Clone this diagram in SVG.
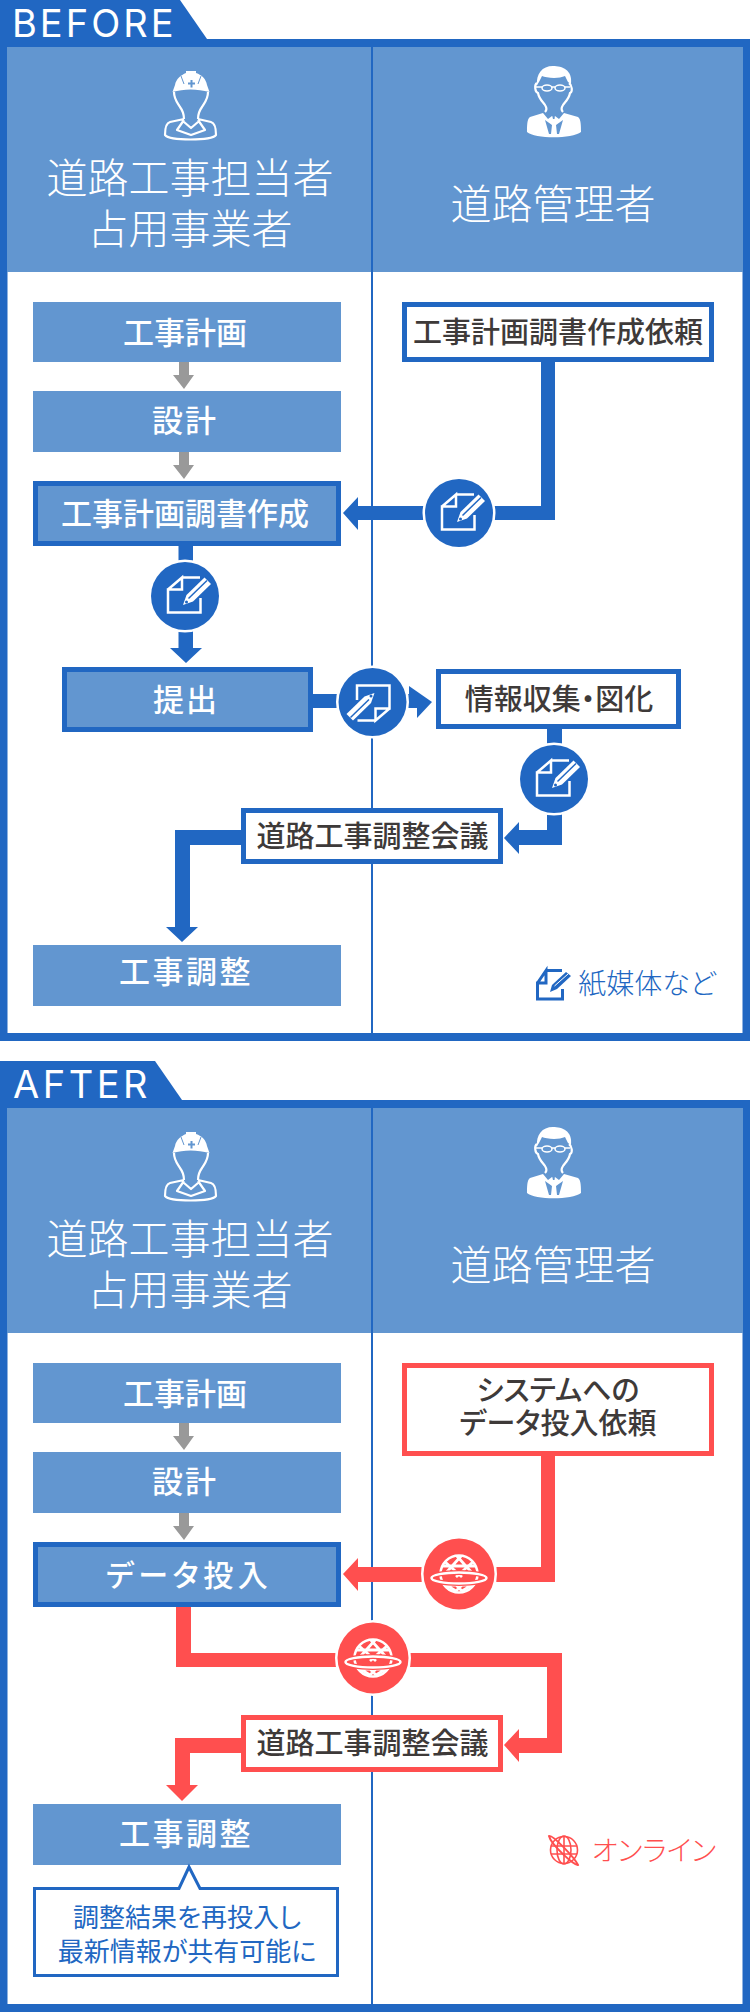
<svg xmlns="http://www.w3.org/2000/svg" width="750" height="2012" viewBox="0 0 750 2012">
<style>
text{font-family:"Noto Sans CJK JP","Noto Sans",sans-serif;text-anchor:middle;font-feature-settings:"palt"}
.hd{font-size:41px;font-weight:300;fill:#fff;font-feature-settings:normal}
.tab{font-family:Inter,"Noto Sans",sans-serif;font-size:38px;font-weight:400;fill:#fff;text-anchor:start}
.w{font-size:31px;font-weight:500;fill:#fff;font-feature-settings:normal}
.wp{font-size:30px;font-weight:500;fill:#fff}
.k{font-size:29px;font-weight:500;fill:#3e3a39}
.note{font-size:26px;font-weight:400;fill:#2167c2}
.leg{font-size:28px;font-weight:300}
.pb{fill:#6296d0}
.pbb{fill:#6296d0;stroke:#2167c2;stroke-width:5}
.wb{fill:#fff;stroke:#2167c2;stroke-width:5}
.wr{fill:#fff;stroke:#ff4f4f;stroke-width:5}
.b{fill:#2167c2}.r{fill:#ff4f4f}.g{fill:#999}
</style>
<defs>
<g id="doc">
<path d="M-3-18.500H15M-17-6.500-3-18.500V-6.500H-17V16.500H15.500V2" fill="none" stroke="#fff" stroke-width="2.500"/>
<path d="M-2 9 1.500-1 19.500-18.500 26-12 8 5.500Z" fill="#fff" stroke="#2167c2" stroke-width="2" paint-order="stroke"/>
<path d="M3.500 2.500 22-15.500" stroke="#2167c2" stroke-width="1.500"/>
<circle cx="1.500" cy="6" r="1.500" fill="#2167c2"/>
</g>
<clipPath id="gc"><circle r="19"/></clipPath>
<g id="globe">
<circle r="18.500" fill="none" stroke="#fff" stroke-width="2.500"/>
<g clip-path="url(#gc)" fill="none" stroke="#fff" stroke-width="2.800">
<path d="M-15-13 3 3M-3-19 14 0M15-13-3 3M3-19-14 0M-19-8H19M-13 11-3 17M13 11 3 17M-3 11 3 17M3 11-3 17M-18 11H18"/>
</g>
<ellipse cy="4" rx="28" ry="5.500" fill="none" stroke="#ff4f4f" stroke-width="5"/>
<ellipse cy="4" rx="27.500" ry="5.500" fill="none" stroke="#fff" stroke-width="2.500"/>
</g>
<g id="worker">
<path d="M175 85C176 79 181 75 186 73V71H196V73C202 75 206 79 207 85L209.500 92C197 88.500 184 88.500 172.500 92Z" fill="#fff"/>
<path d="M181 76 184 84M201 76 198 84" stroke="#6296d0" stroke-width="1"/>
<path d="M188 82.500h2.500v-2.500h2v2.500h2.500v2h-2.500v3h-2v-3h-2.500Z" fill="#6296d0"/>
<path d="M174 92C174 99 177 102 180 107 183 111 184 114 184 119M208 92C208 99 205 102 202 107 199 111 198 114 198 119M184 119 170 122C166 123 165 129 165 135 170 141 211 141 216 135 216 129 215 123 211 122L198 119M184 120 177 130 191 135 205 130 198 120M184 122 191 128 198 122" fill="none" stroke="#fff" stroke-width="2.200" stroke-linejoin="round"/>
</g>
<g id="manager">
<path d="M537 85C536 74 542 66 553 66 562 66 573 70 571 84L568 82 565 76C559 79 546 78 542 76L539 82Z" fill="#fff"/>
<path d="M537 83C534 85 535 92 538 93 539 99 543 102 545 105 547 108 547 110 545 112M569 83C572 85 573 92 570 93 569 99 565 102 563 105 561 108 561 110 563 112" fill="none" stroke="#fff" stroke-width="2.200"/>
<ellipse cx="547" cy="88" rx="5" ry="3" fill="none" stroke="#fff" stroke-width="1.500"/>
<ellipse cx="560" cy="88" rx="5" ry="3" fill="none" stroke="#fff" stroke-width="1.500"/>
<path d="M552 87H555M535 87H542M565 87H570" stroke="#fff" stroke-width="1.500"/>
<path d="M543 113 530 117C527 119 527 126 527 132 535 139 572 139 581 132 581 126 581 119 578 117L564 113 559 119 555 116 552 116 548 119Z" fill="#fff"/>
<path d="M545 120 549 134H551L552 125ZM563 120 559 134H557L556 125Z" fill="#6296d0"/>
<path d="M552 115 555 115 554.500 119 553 119Z" fill="#6296d0"/>
</g>
<g id="legdoc">
<path d="M546 970.500H562M537.500 983 546 970.500V983H537.500V999H562.500V989" fill="none" stroke="#2167c2" stroke-width="3"/>
<path d="M550 992 552 985 566 972 571 976 557 989Z" fill="#2167c2" stroke="#fff" stroke-width="1.500" paint-order="stroke"/>
<path d="M554.500 986 568 974" stroke="#fff" stroke-width="1"/>
</g>
</defs>

<g id="before">
<g id="before-frame">
<rect x="3.500" y="43" width="743" height="994" fill="#fff" stroke="#2167c2" stroke-width="8"/>
<polygon class="b" points="0,0 180,0 207,39 207,47 0,47"/>
<rect class="pb" x="7" y="47" width="736" height="225"/>
<rect class="b" x="371" y="47" width="2" height="987"/>
<text class="tab" x="12" y="37" letter-spacing="3">BEFORE</text>
</g>
<g id="before-connectors">
<path class="g" d="M179 362H189V375H194L184 389 173 375H179Z"/>
<path class="g" d="M179 452H189V465H194L184 479 173 465H179Z"/>
<path class="b" d="M541 362H555V520H358V530L343 513 358 497V506H541Z"/>
<path class="b" d="M178.500 546H193V648H202L186 663 170 648H178.500Z"/>
<path class="b" d="M313 694H409V686L432 702 417 718V708H313Z"/>
<path class="b" d="M547 729H562V845H519V854L504 838 519 822V830H547Z"/>
<path class="b" d="M241 830V845H190V927H198L182 942 166 927H175V830Z"/>
</g>
<g id="b-koji"><rect class="pb" x="33" y="302" width="308" height="60"/><text class="w" x="185" y="344">工事計画</text></g>
<g id="b-sekkei"><rect class="pb" x="33" y="391" width="308" height="61"/><text class="w" x="185" y="432" letter-spacing="2">設計</text></g>
<g id="b-chosho"><rect class="pbb" x="35.500" y="483.500" width="303" height="60"/><text class="w" x="185" y="525">工事計画調書作成</text></g>
<g id="b-teishutsu"><rect class="pbb" x="64.500" y="669.500" width="246" height="60"/><text class="w" x="186" y="711" letter-spacing="2">提出</text></g>
<g id="b-chotei"><rect class="pb" x="33" y="945" width="308" height="61"/><text class="w" x="186" y="983" letter-spacing="2.500">工事調整</text></g>
<g id="b-irai"><rect class="wb" x="404.500" y="304.500" width="307" height="55"/><text class="k" x="558" y="343">工事計画調書作成依頼</text></g>
<g id="b-joho"><rect class="wb" x="438.500" y="671.500" width="240" height="55"/><text class="k" x="559" y="710">情報収集・図化</text></g>
<g id="b-kaigi"><rect class="wb" x="243.500" y="810.500" width="257" height="51"/><text class="k" x="372.500" y="847">道路工事調整会議</text></g>
<g id="b-c1"><circle class="b" cx="459" cy="513" r="34" stroke="#fff" stroke-width="5" paint-order="stroke"/><use href="#doc" x="459" y="513"/></g>
<g id="b-c2"><circle class="b" cx="185" cy="596" r="34" stroke="#fff" stroke-width="5" paint-order="stroke"/><use href="#doc" x="185" y="596"/></g>
<g id="b-c3"><circle class="b" cx="372.500" cy="702" r="34" stroke="#fff" stroke-width="5" paint-order="stroke"/><use href="#doc" transform="translate(372.500 702) rotate(180)"/></g>
<g id="b-c4"><circle class="b" cx="554" cy="779" r="34" stroke="#fff" stroke-width="5" paint-order="stroke"/><use href="#doc" x="554" y="779"/></g>
<g id="b-h1"><use href="#worker"/><text class="hd" x="190" y="193">道路工事担当者</text><text class="hd" x="190" y="244">占用事業者</text></g>
<g id="b-h2"><use href="#manager"/><text class="hd" x="553" y="219">道路管理者</text></g>
<g id="b-legend"><use href="#legdoc"/><text class="leg" x="647" y="994" fill="#2167c2">紙媒体など</text></g>
</g>

<g id="after">
<g id="after-frame">
<rect x="3.500" y="1104" width="743" height="904" fill="#fff" stroke="#2167c2" stroke-width="8"/>
<polygon class="b" points="0,1061 155,1061 182,1100 182,1108 0,1108"/>
<rect class="pb" x="7" y="1108" width="736" height="225"/>
<rect class="b" x="371" y="1108" width="2" height="897"/>
<text class="tab" x="13" y="1098" letter-spacing="3.500">AFTER</text>
</g>
<g id="after-connectors">
<path class="g" d="M179 1423H189V1436H194L184 1450 173 1436H179Z"/>
<path class="g" d="M179 1513H189V1526H194L184 1540 173 1526H179Z"/>
<path class="r" d="M541 1456H555V1582H358V1591L343 1574 358 1558V1567H541Z"/>
<path class="r" d="M176 1607H191V1653H562V1753H519V1762L504 1745 519 1729V1738H547V1667H176Z"/>
<path class="r" d="M241 1738V1753H190V1785H198L182 1801 166 1785H175V1738Z"/>
</g>
<g id="a-koji"><rect class="pb" x="33" y="1363" width="308" height="60"/><text class="w" x="185" y="1405">工事計画</text></g>
<g id="a-sekkei"><rect class="pb" x="33" y="1452" width="308" height="61"/><text class="w" x="185" y="1493" letter-spacing="2">設計</text></g>
<g id="a-data"><rect class="pbb" x="35.500" y="1544.500" width="303" height="60"/><text class="wp" x="189" y="1586" letter-spacing="4.500">データ投入</text></g>
<g id="a-chotei"><rect class="pb" x="33" y="1804" width="308" height="61"/><text class="w" x="186" y="1845" letter-spacing="2.500">工事調整</text></g>
<g id="a-irai"><rect class="wr" x="404.500" y="1365.500" width="307" height="88"/><text class="k" x="558" y="1401">システムへの</text><text class="k" x="558" y="1434">データ投入依頼</text></g>
<g id="a-kaigi"><rect class="wr" x="243.500" y="1717.500" width="257" height="52"/><text class="k" x="372.500" y="1754">道路工事調整会議</text></g>
<g id="a-note"><path d="M34.500 1888.500H179L189 1867 200 1888.500H337.500V1975.500H34.500Z" fill="#fff" stroke="#2167c2" stroke-width="3"/><text class="note" x="187" y="1927">調整結果を再投入し</text><text class="note" x="187" y="1961">最新情報が共有可能に</text></g>
<g id="a-c1"><circle class="r" cx="459" cy="1574" r="35.500" stroke="#fff" stroke-width="5" paint-order="stroke"/><use href="#globe" x="459" y="1574"/></g>
<g id="a-c2"><circle class="r" cx="373" cy="1658" r="35.500" stroke="#fff" stroke-width="5" paint-order="stroke"/><use href="#globe" x="373" y="1658"/></g>
<g id="a-h1"><use href="#worker" y="1061"/><text class="hd" x="190" y="1254">道路工事担当者</text><text class="hd" x="190" y="1305">占用事業者</text></g>
<g id="a-h2"><use href="#manager" y="1061"/><text class="hd" x="553" y="1280">道路管理者</text></g>
<g id="a-legend">
<g fill="none" stroke="#ff4f4f" stroke-width="1.600">
<circle cx="564" cy="1850" r="13.500"/>
<path d="M551 1846H577M551 1854H577M564 1836V1864"/>
<ellipse cx="564" cy="1850" rx="7" ry="14"/>
<path d="M549 1836C552 1834 575 1858 578 1865 576 1867 551 1845 549 1836Z" stroke-width="2"/>
</g>
<text class="leg" x="654" y="1861" fill="#ff4f4f">オンライン</text>
</g>
</g>
</svg>
